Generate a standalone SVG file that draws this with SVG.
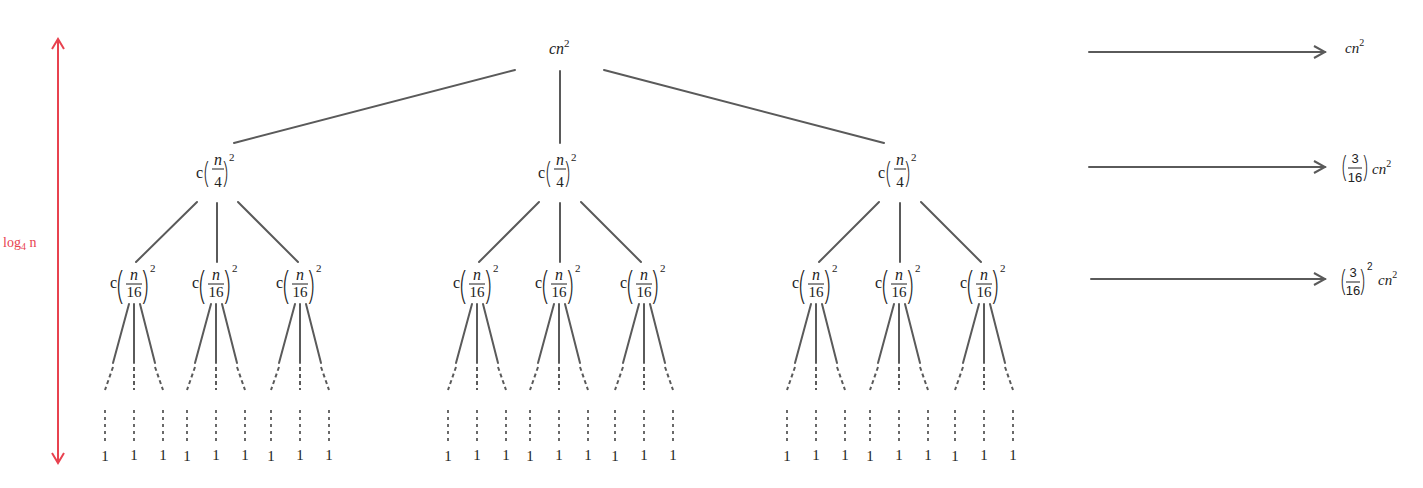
<svg xmlns="http://www.w3.org/2000/svg" width="1423" height="488" viewBox="0 0 1423 488">
<defs>
<style>
.ln{stroke:#5a5a5a;stroke-width:2;fill:none;stroke-linecap:round}
.ds{stroke:#5a5a5a;stroke-width:2;fill:none;stroke-dasharray:4 3}
.dt{stroke:#5a5a5a;stroke-width:1.8;fill:none;stroke-dasharray:3 4}
.bar{stroke:#333;stroke-width:1.1}
.t{font-family:"Liberation Serif",serif;fill:#222}
.i{font-family:"Liberation Serif",serif;font-style:italic;fill:#222}
.s{font-family:"Liberation Sans",sans-serif;fill:#222}
.p{font-family:"Open Sans","Liberation Sans",sans-serif;font-weight:300;fill:#222}
.red{font-family:"Liberation Serif",serif;fill:#e8424f}
</style>
<marker id="ah" markerWidth="14" markerHeight="14" refX="12" refY="7" orient="auto" markerUnits="userSpaceOnUse">
<path d="M1,1 L12,7 L1,13" fill="none" stroke="#5a5a5a" stroke-width="2"/>
</marker>
<marker id="rh" markerWidth="14" markerHeight="14" refX="12" refY="7" orient="auto-start-reverse" markerUnits="userSpaceOnUse">
<path d="M2,1 L12,7 L2,13" fill="none" stroke="#e8424f" stroke-width="2"/>
</marker>
<g id="n1">
<text class="t" x="-22" y="178" font-size="16">c</text>
<text class="p" font-size="30" transform="matrix(0.6 0 0 1 -14 182)">(</text>
<text class="i" x="0" y="165" font-size="16" text-anchor="middle">n</text>
<line class="bar" x1="-6" y1="169" x2="6" y2="169"/>
<text class="t" x="0" y="187" font-size="15" text-anchor="middle">4</text>
<text class="p" font-size="30" transform="matrix(0.6 0 0 1 5 182)">)</text>
<text class="t" x="11" y="161" font-size="11">2</text>
</g>
<g id="n2">
<text class="t" x="-24" y="288" font-size="16">c</text>
<text class="p" font-size="39" transform="matrix(0.6 0 0 1 -17 298)">(</text>
<text class="i" x="0" y="280" font-size="16" text-anchor="middle">n</text>
<line class="bar" x1="-8" y1="284" x2="8" y2="284"/>
<text class="t" x="0" y="297" font-size="15" text-anchor="middle">16</text>
<text class="p" font-size="39" transform="matrix(0.6 0 0 1 8 298)">)</text>
<text class="t" x="16" y="272" font-size="11">2</text>
</g>
<g id="leaf">
<line class="ln" x1="-5" y1="304" x2="-21" y2="363"/>
<line class="ln" x1="0" y1="304" x2="0" y2="363"/>
<line class="ln" x1="6" y1="304" x2="21" y2="363"/>
<line class="ds" x1="-21" y1="367" x2="-29" y2="390"/>
<line class="ds" x1="0" y1="367" x2="0" y2="390"/>
<line class="ds" x1="21" y1="367" x2="29" y2="390"/>
<line class="dt" x1="-29" y1="410" x2="-29" y2="444"/>
<line class="dt" x1="0" y1="410" x2="0" y2="444"/>
<line class="dt" x1="29" y1="410" x2="29" y2="444"/>
<text class="t" x="-29" y="461" font-size="15" text-anchor="middle">1</text>
<text class="t" x="0" y="460" font-size="15" text-anchor="middle">1</text>
<text class="t" x="29" y="460" font-size="15" text-anchor="middle">1</text>
</g>
</defs>

<g id="connectors">
<line class="ln" x1="515" y1="70" x2="234" y2="143"/>
<line class="ln" x1="560" y1="71" x2="560" y2="143"/>
<line class="ln" x1="604" y1="70" x2="884" y2="143"/>
<line class="ln" x1="197" y1="202" x2="136" y2="262"/>
<line class="ln" x1="217" y1="203" x2="217" y2="262"/>
<line class="ln" x1="238" y1="202" x2="298" y2="262"/>
<line class="ln" x1="539" y1="202" x2="479" y2="262"/>
<line class="ln" x1="560" y1="203" x2="560" y2="262"/>
<line class="ln" x1="581" y1="202" x2="641" y2="262"/>
<line class="ln" x1="879" y1="202" x2="819" y2="262"/>
<line class="ln" x1="900" y1="203" x2="900" y2="262"/>
<line class="ln" x1="921" y1="202" x2="981" y2="262"/>
<use href="#leaf" x="134"/>
<use href="#leaf" x="216"/>
<use href="#leaf" x="300"/>
<use href="#leaf" x="477"/>
<use href="#leaf" x="559"/>
<use href="#leaf" x="644"/>
<use href="#leaf" x="816"/>
<use href="#leaf" x="899"/>
<use href="#leaf" x="984"/>
<line class="ln" x1="1089" y1="52" x2="1325" y2="52" marker-end="url(#ah)"/>
<line class="ln" x1="1089" y1="167" x2="1325" y2="167" marker-end="url(#ah)"/>
<line class="ln" x1="1091" y1="279" x2="1325" y2="279" marker-end="url(#ah)"/>
<line x1="58" y1="39" x2="58" y2="463" stroke="#e8424f" stroke-width="2" marker-start="url(#rh)" marker-end="url(#rh)"/>
</g>

<g id="root">
<text class="i" x="549" y="54" font-size="16">cn<tspan font-size="11" font-style="normal" dy="-7">2</tspan></text>
</g>
<g id="l1-a"><use href="#n1" x="218"/></g>
<g id="l1-b"><use href="#n1" x="560"/></g>
<g id="l1-c"><use href="#n1" x="900"/></g>
<g id="l2-1"><use href="#n2" x="134"/></g>
<g id="l2-2"><use href="#n2" x="216"/></g>
<g id="l2-3"><use href="#n2" x="300"/></g>
<g id="l2-4"><use href="#n2" x="477"/></g>
<g id="l2-5"><use href="#n2" x="559"/></g>
<g id="l2-6"><use href="#n2" x="644"/></g>
<g id="l2-7"><use href="#n2" x="816"/></g>
<g id="l2-8"><use href="#n2" x="899"/></g>
<g id="l2-9"><use href="#n2" x="984"/></g>

<g id="sum1">
<text class="i" x="1345" y="53" font-size="15">cn<tspan font-size="10" font-style="normal" dy="-7">2</tspan></text>
</g>
<g id="sum2">
<text class="p" font-size="29" transform="matrix(0.6 0 0 1 1342 176)">(</text>
<text class="s" x="1355" y="163" font-size="13" text-anchor="middle">3</text>
<line class="bar" x1="1348" y1="168" x2="1362" y2="168"/>
<text class="s" x="1355" y="182" font-size="13" text-anchor="middle">16</text>
<text class="p" font-size="29" transform="matrix(0.6 0 0 1 1363 176)">)</text>
<text class="i" x="1372" y="174" font-size="15">cn<tspan font-size="10" font-style="normal" dy="-7">2</tspan></text>
</g>
<g id="sum3">
<text class="p" font-size="30" transform="matrix(0.6 0 0 1 1341 290)">(</text>
<text class="s" x="1353" y="277" font-size="13" text-anchor="middle">3</text>
<line class="bar" x1="1346" y1="282" x2="1360" y2="282"/>
<text class="s" x="1353" y="295" font-size="13" text-anchor="middle">16</text>
<text class="p" font-size="30" transform="matrix(0.6 0 0 1 1360 290)">)</text>
<text class="s" x="1367" y="270" font-size="10">2</text>
<text class="i" x="1378" y="285" font-size="15">cn<tspan font-size="10" font-style="normal" dy="-7">2</tspan></text>
</g>
<g id="height">
<text class="red" x="3" y="247" font-size="14">log<tspan font-size="10" dy="3">4</tspan><tspan dy="-3"> n</tspan></text>
</g>
</svg>
